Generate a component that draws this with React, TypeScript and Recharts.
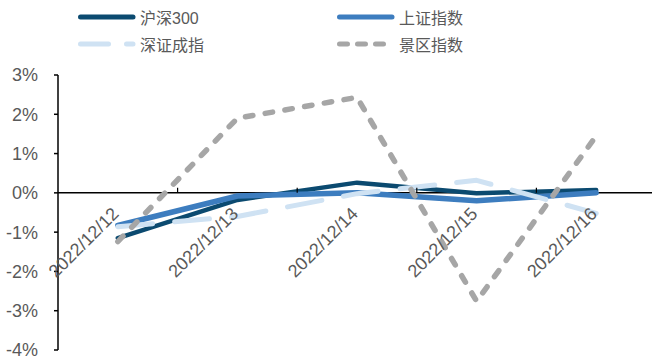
import { LineChart, Line, XAxis, YAxis, ReferenceLine } from 'recharts';

const dates = ['2022/12/12', '2022/12/13', '2022/12/14', '2022/12/15', '2022/12/16'];
const hs300 = [-1.15, -0.18, 0.26, -0.01, 0.07];
const shIndex = [-0.83, -0.08, 0.0, -0.2, 0.0];
const szIndex = [-0.86, -0.6, -0.02, 0.32, -0.52];
const scenicIndex = [-1.24, 1.9, 2.43, -2.76, 1.45];
const yTicks = [-4, -3, -2, -1, 0, 1, 2, 3];

const data = dates.map((d, i) => ({
    date: d,
    hs300: hs300[i],
    sh: shIndex[i],
    sz: szIndex[i],
    scenic: scenicIndex[i],
}));

const series = [
    { key: 'hs300', name: '沪深300', color: '#0b4a70', width: 4.5, dash: undefined },
    { key: 'sh', name: '上证指数', color: '#3d7dbf', width: 5.5, dash: undefined },
    { key: 'sz', name: '深证成指', color: '#cfe2f3', width: 5, dash: '35 22' },
    { key: 'scenic', name: '景区指数', color: '#a6a6a6', width: 5.5, dash: '7.5 12.5' },
];

const W = 660;
const H = 358;
const M = { top: 75, right: 4, bottom: 7, left: 0 };
const X_AXIS_H = 1;
const Y_AXIS_W = 58;
const PLOT_W = W - M.left - M.right - Y_AXIS_W;
const PLOT_H = H - M.top - M.bottom - X_AXIS_H;
const Y_MIN = -4;
const Y_MAX = 3;
const ZERO_Y = M.top + (Y_MAX / (Y_MAX - Y_MIN)) * PLOT_H;
const BAND = PLOT_W / dates.length;

const FONT = '"Liberation Sans", Arial, "Noto Sans CJK SC", sans-serif';
const TEXT = '#595959';

function DateTick(props: any) {
    const { x, payload, index } = props;
    return (
        <g>
            {index < dates.length - 1 && (
                <line x1={x + BAND / 2} x2={x + BAND / 2} y1={ZERO_Y} y2={ZERO_Y - 5} stroke="#000" strokeWidth={1.2} />
            )}
            <text
                x={x + 2}
                y={ZERO_Y + 22}
                transform={`rotate(-45 ${x + 2} ${ZERO_Y + 22})`}
                textAnchor="end"
                fill={TEXT}
                fontSize={18}
                fontFamily={FONT}
            >
                {payload.value}
            </text>
        </g>
    );
}

function LegendBox() {
    const pos = [
        { left: 78, top: 17 },
        { left: 337, top: 17 },
        { left: 78, top: 44 },
        { left: 337, top: 44 },
    ];
    return (
        <>
            {series.map((s, i) => (
                <div
                    key={s.key}
                    style={{
                        position: 'absolute',
                        left: pos[i].left,
                        top: pos[i].top - 12,
                        height: 24,
                        display: 'flex',
                        alignItems: 'center',
                        fontFamily: FONT,
                        fontSize: 16,
                        color: TEXT,
                    }}
                >
                    <svg width={60} height={10} style={{ marginRight: 2 }}>
                        <line
                            x1={2.5}
                            x2={55}
                            y1={5}
                            y2={5}
                            stroke={s.color}
                            strokeWidth={5}
                            strokeLinecap="round"
                            strokeDasharray={s.key === 'sz' ? '28 18' : s.key === 'scenic' ? '8 10' : undefined}
                        />
                    </svg>
                    <span>{s.name}</span>
                </div>
            ))}
        </>
    );
}

export default function App() {
    return (
        <div style={{ position: 'absolute', left: 0, top: 0, width: 652, height: 358, overflow: 'hidden', background: '#fff' }}>
            <LineChart width={W} height={H} data={data} margin={M}>
                <XAxis
                    dataKey="date"
                    height={X_AXIS_H}
                    axisLine={false}
                    tickLine={false}
                    tick={<DateTick />}
                    interval={0}
                    padding={{ left: BAND / 2, right: BAND / 2 }}
                />
                <YAxis
                    width={Y_AXIS_W}
                    domain={[Y_MIN, Y_MAX]}
                    ticks={yTicks}
                    interval={0}
                    tickFormatter={(v: number) => `${v}%`}
                    axisLine={{ stroke: '#000', strokeWidth: 1.5 }}
                    tickLine={{ stroke: '#000', strokeWidth: 1.5 }}
                    tickSize={4}
                    tickMargin={16}
                    tick={{ fill: TEXT, fontSize: 18, fontFamily: FONT }}
                />
                <ReferenceLine y={0} stroke="#000" strokeWidth={1.5} />
                {series.map((s) => (
                    <Line
                        key={s.key}
                        type="linear"
                        dataKey={s.key}
                        name={s.name}
                        stroke={s.color}
                        strokeWidth={s.width}
                        strokeDasharray={s.dash}
                        strokeLinecap="round"
                        strokeLinejoin="round"
                        dot={false}
                        activeDot={false}
                        isAnimationActive={false}
                    />
                ))}
            </LineChart>
            <LegendBox />
        </div>
    );
}
